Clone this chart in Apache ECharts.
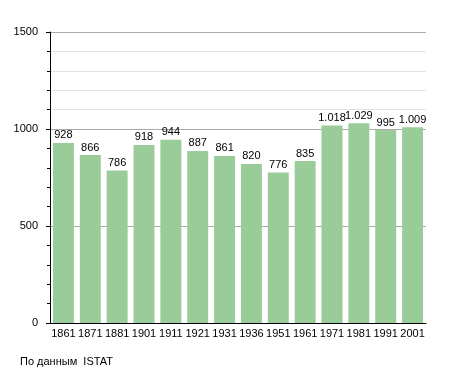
<!DOCTYPE html>
<html><head><meta charset="utf-8">
<script src="https://cdn.jsdelivr.net/npm/echarts@6/dist/echarts.min.js"></script>
<style>html,body{margin:0;padding:0;background:#fff}#c{width:455px;height:373px}</style>
</head><body><div id="c"></div>
<script>
const years = ['1861','1871','1881','1901','1911','1921','1931','1936','1951','1961','1971','1981','1991','2001'];
const population = [928,866,786,918,944,887,861,820,776,835,1018,1029,995,1009];
const yTickLabels = ['0','500','1000','1500'];
const minorGridValues = [1100,1200,1300,1400];
const sourceNote = 'По данным  ISTAT';

const chart = echarts.init(document.getElementById('c'), null, {renderer:'canvas'});
const fmt = v => v >= 1000 ? Math.floor(v/1000) + '.' + String(v%1000).padStart(3,'0') : String(v);
chart.setOption({
  animation:false,
  textStyle:{fontFamily:'Liberation Sans, Arial, sans-serif'},
  grid:{left:50,right:29,top:32,bottom:50},
  xAxis:{type:'category',data:years,
    axisLine:{lineStyle:{color:'#000',width:1}},
    axisTick:{show:false},
    axisLabel:{color:'#000',fontSize:11,margin:5,interval:0}},
  yAxis:{type:'value',min:0,max:1500,interval:500,
    axisLine:{show:true,lineStyle:{color:'#000',width:1}},
    axisTick:{show:true,length:4,lineStyle:{color:'#000'}},
    minorTick:{show:true,splitNumber:5,length:3,lineStyle:{color:'#000'}},
    splitLine:{show:true,lineStyle:{color:'#aaa',width:1}},
    axisLabel:{color:'#000',fontSize:11,margin:12,formatter:v=>yTickLabels[Math.round(v/500)]}},
  series:[{type:'bar',data:population,barCategoryGap:'22%',
    itemStyle:{color:'#99cc99'},
    label:{show:true,position:'top',distance:2,color:'#000',fontSize:11,formatter:p=>fmt(p.value)},
    markLine:{silent:true,symbol:'none',label:{show:false},z:0,
      lineStyle:{color:'#e2e2e2',type:'solid',width:1},
      data:minorGridValues.map(v=>({yAxis:v}))}
  }],
  graphic:[{type:'text',left:20,top:356,style:{text:sourceNote,fill:'#000',font:'11px Liberation Sans, Arial, sans-serif'}}]
});
</script></body></html>
